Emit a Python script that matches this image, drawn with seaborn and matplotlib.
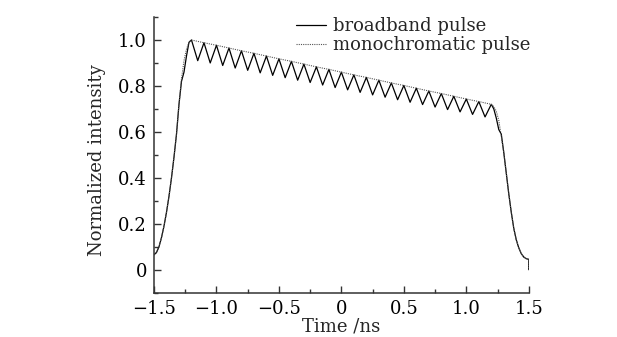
import numpy as np
import pandas as pd
import matplotlib
matplotlib.use('Agg')
import matplotlib.pyplot as plt
from matplotlib.ticker import MultipleLocator
import seaborn as sns

# leading edge of the broadband pulse
rise_t = [-1.50, -1.48, -1.46, -1.44, -1.42, -1.40, -1.38, -1.36, -1.34,
          -1.32, -1.30, -1.28, -1.26, -1.24, -1.22]
rise_broad = [0.065, 0.075, 0.10, 0.14, 0.19, 0.25, 0.32, 0.40, 0.49,
              0.59, 0.72, 0.82, 0.86, 0.93, 0.99]
rise_mono = [0.065, 0.075, 0.10, 0.14, 0.19, 0.25, 0.32, 0.40, 0.49,
             0.59, 0.72, 0.83, 0.91, 0.96, 0.99]

# plateau: peaks sit on the monochromatic envelope
peak_t = [-1.2, -1.1, -1.0, -0.9, -0.8, -0.7, -0.6, -0.5, -0.4, -0.3, -0.2, -0.1,
          0.0, 0.1, 0.2, 0.3, 0.4, 0.5, 0.6, 0.7, 0.8, 0.9, 1.0, 1.1, 1.2]
peak_val = [1.000, 0.988, 0.977, 0.965, 0.953, 0.942, 0.930, 0.918, 0.907,
            0.895, 0.883, 0.872, 0.860, 0.848, 0.837, 0.825, 0.813, 0.802,
            0.790, 0.778, 0.767, 0.755, 0.743, 0.732, 0.720]
trough_t = [-1.15, -1.05, -0.95, -0.85, -0.75, -0.65, -0.55, -0.45, -0.35, -0.25,
            -0.15, -0.05, 0.05, 0.15, 0.25, 0.35, 0.45, 0.55, 0.65, 0.75,
            0.85, 0.95, 1.05, 1.15]
trough_val = [0.910, 0.900, 0.889, 0.878, 0.868, 0.857, 0.846, 0.836, 0.825,
              0.815, 0.804, 0.793, 0.783, 0.772, 0.761, 0.751, 0.740, 0.729,
              0.719, 0.708, 0.697, 0.687, 0.676, 0.665]

# trailing edge
fall_t = [1.22, 1.24, 1.26, 1.28, 1.30, 1.32, 1.34, 1.36, 1.38, 1.40,
          1.42, 1.44, 1.46, 1.48, 1.50, 1.50]
fall_broad = [0.70, 0.66, 0.61, 0.59, 0.51, 0.42, 0.33, 0.25, 0.18, 0.13,
              0.095, 0.07, 0.055, 0.048, 0.045, 0.0]
fall_mono = [0.71, 0.69, 0.65, 0.58, 0.51, 0.42, 0.33, 0.25, 0.18, 0.13,
             0.095, 0.07, 0.055, 0.048, 0.045, 0.0]

# assemble the two curves
plateau = sorted(list(zip(peak_t, peak_val)) + list(zip(trough_t, trough_val)))
broad = pd.DataFrame({
    't': rise_t + [p[0] for p in plateau] + fall_t,
    'I': rise_broad + [p[1] for p in plateau] + fall_broad,
})
mono = pd.DataFrame({
    't': rise_t + peak_t + fall_t,
    'I': rise_mono + peak_val + fall_mono,
})

sns.set_style('ticks')
plt.rcParams['font.family'] = ['DejaVu Serif']

fig = plt.figure(figsize=(6.17, 3.37), dpi=100)
ax = fig.add_axes([0.2496, 0.1315, 0.6074, 0.818])

sns.lineplot(data=broad, x='t', y='I', ax=ax, sort=False, estimator=None,
             color='black', linewidth=0.9, label='broadband pulse')
sns.lineplot(data=mono, x='t', y='I', ax=ax, sort=False, estimator=None,
             color='#555555', linewidth=0.8, linestyle=(0, (1, 1)),
             label='monochromatic pulse')

ax.set_xlim(-1.5, 1.5)
ax.set_ylim(-0.1, 1.1)
ax.xaxis.set_minor_locator(MultipleLocator(0.25))
ax.yaxis.set_minor_locator(MultipleLocator(0.1))
ax.set_yticks([0, 0.2, 0.4, 0.6, 0.8, 1.0])
ax.set_yticklabels(['0', '0.2', '0.4', '0.6', '0.8', '1.0'])
ax.set_xticks([-1.5, -1.0, -0.5, 0, 0.5, 1.0, 1.5])
ax.set_xticklabels(['\u22121.5', '\u22121.0', '\u22120.5', '0', '0.5', '1.0', '1.5'])

ax.tick_params(which='both', direction='in', labelsize=13, width=1, color='#333333',
               labelcolor='black')
ax.tick_params(which='major', length=5, pad=5)
ax.tick_params(which='minor', length=3)
for s in ['top', 'right']:
    ax.spines[s].set_visible(False)
for s in ['left', 'bottom']:
    ax.spines[s].set_linewidth(1.1)
    ax.spines[s].set_color('#333333')

ax.set_xlabel('Time /ns', fontsize=13, labelpad=0)
ax.set_ylabel('Normalized intensity', fontsize=13)
ax.yaxis.set_label_coords(-0.128, 0.48)

ax.legend(loc='upper left', bbox_to_anchor=(0.4765, 0.955), bbox_transform=fig.transFigure,
          frameon=False, fontsize=13, handlelength=1.65, handletextpad=0.4,
          labelspacing=0.05, borderpad=0.1, borderaxespad=0)

fig.savefig('out.png', dpi=100, facecolor='white')
